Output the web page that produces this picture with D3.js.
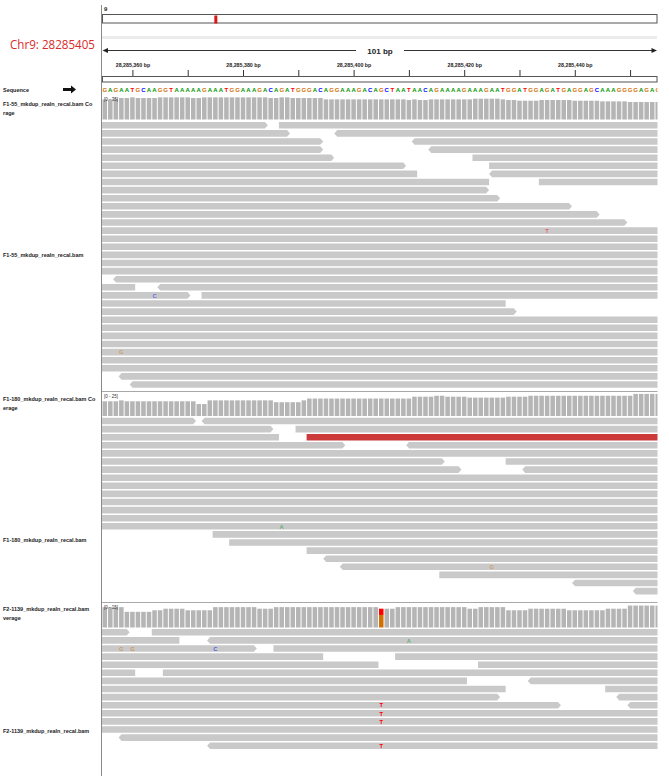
<!DOCTYPE html>
<html><head><meta charset="utf-8">
<script src="https://cdn.jsdelivr.net/npm/d3@7"></script>
<style>
body{margin:0;background:#fff}
svg{display:block}
text{font-family:"Liberation Sans",Arial,sans-serif}
</style>
</head><body>
<svg id="c" width="669" height="781"></svg>
<script>
// ---------------- DATA ----------------
const chromName = "9";
const chromLength = 138394717;
const locusLabel = "Chr9: 28285405";
const locusPos = 28285405;
const viewStart = 28285354.5, viewEnd = 28285455.5;
const spanLabel = "101 bp";
const tickPositions = [28285360,28285370,28285380,28285390,28285400,28285410,28285420,28285430,28285440,28285450];
const labeledTicks = [28285360,28285380,28285400,28285420,28285440];
const tickLabels = ["28,285,360 bp","28,285,380 bp","28,285,400 bp","28,285,420 bp","28,285,440 bp"];
const sequence = "GAGAATGCAAGGTAAAAAGAAATGGAAAGACAGATGGGACAGGAAAGACAGCTAATAACAGAAAAGAAAGAATGGATGGAGATGAGGAGCAAAGGGGAGAG".split("");

const covLabels = ["F1-55_mkdup_realn_recal.bam Co","F1-180_mkdup_realn_recal.bam Co","F2-1139_mkdup_realn_recal.bam"];
const covLabels2 = ["rage","erage","verage"];
const readLabels = ["F1-55_mkdup_realn_recal.bam","F1-180_mkdup_realn_recal.bam","F2-1139_mkdup_realn_recal.bam"];
const covRanges = ["[0 - 35]","[0 - 25]","[0 - 15]"];
const covMax = [35,25,15];

const cov1 = [30,30,31,32,32,33,32,32,32,32, 33,33,33,33,33,33,32,32,33,33, 33,33,33,33,33,33,33,33,33,33,
  32,32,33,33,32,32,32,32,32,32, 30,30,30,30,30,30,30,30,30,30, 30,30,30,30,30,29,30,29,29,30,
  30,30,30,30,30,30,30,31,31,31, 31,31,30,29,29,28,28,28,28,29, 29,29,29,29,29,28,28,28,28,28,
  27,27,27,27,27,26,26,26,26,26, 26];
const cov2 = [16,16,16,17,16,16,16,16,16,16, 16,16,16,16,16,16,16,13,13,17, 17,17,17,17,17,17,17,17,17,17,
  17,15,15,15,15,15,17,19,19,19, 19,19,19,19,19,19,19,19,19,19, 19,19,19,19,19,19,21,21,21,21,
  22,22,21,21,21,21,20,20,20,20, 20,20,20,21,21,21,21,22,22,22, 22,22,22,22,22,22,22,22,22,22,
  22,22,22,22,22,22,24,24,24,24, 24];
const cov3 = [13,13,13,13,10,10,10,10,10,11, 11,12,12,12,12,11,11,11,11,11, 13,13,13,13,13,13,13,13,12,12,
  12,13,13,13,13,13,13,13,13,13, 13,13,13,13,13,13,13,13,13,13, 12,12,12,13,13,13,13,13,13,13,
  13,13,13,13,13,13,12,12,13,13, 13,13,13,11,11,11,11,12,12,12, 12,12,12,12,11,11,11,11,11,11,
  11,12,12,12,12,14,14,14,14,14, 14];
// allele counts at mismatch columns: [base index, base, count] (stacked bottom to top)
const cov3Alleles = [[50,"G",8],[50,"T",4]];

// reads: [row, startBaseIndex, endBaseIndex, strand, discordant]
const reads1 = [
  [0,0,30,"+"],[0,32,101,"+"],[1,0,34,"+"],[1,42,101,"-"],[2,0,40,"+"],[2,56,101,"-"],
  [3,0,40,"+"],[3,59,101,"-"],[4,0,42,"+"],[4,67,101,"+"],[5,0,55,"+"],[5,70,101,"+"],
  [6,0,57,"-"],[6,70,101,"-"],[7,0,70,"-"],[7,79,101,"+"],[8,0,70,"+"],[9,0,72,"+"],
  [10,0,85,"+"],[11,0,90,"+"],[12,0,95,"+"],
  [13,0,101,"+"],[14,0,101,"+"],[15,0,101,"+"],[16,0,101,"+"],[17,0,101,"+"],[18,0,101,"+"],
  [19,2,101,"-"],[20,0,6,"-"],[20,10,101,"-"],[21,0,16,"+"],[21,18,101,"+"],
  [22,0,73,"-"],[23,0,75,"+"],
  [24,0,101,"+"],[25,0,101,"+"],[26,0,101,"+"],[27,0,101,"+"],[28,0,101,"+"],[29,0,101,"+"],[30,0,101,"+"],
  [31,3,101,"-"],[32,5,101,"-"]
];
const reads2 = [
  [0,0,17,"+"],[0,18,101,"-"],[1,0,31,"+"],[1,35,101,"+"],[2,0,32,"-"],[2,37,101,"+",true],
  [3,0,44,"+"],[3,55,101,"-"],[4,0,101,"+"],[5,0,62,"+"],[5,73,101,"+"],[6,0,65,"+"],[6,76,101,"-"],
  [7,0,101,"+"],[8,0,101,"+"],[9,0,101,"+"],[10,0,101,"+"],[11,0,101,"+"],[12,0,101,"+"],[13,0,101,"+"],
  [14,20,101,"+"],[15,23,101,"+"],[16,37,101,"+"],[17,40,101,"-"],[18,43,101,"-"],
  [19,61,101,"+"],[20,85,101,"-"],[21,96,101,"-"]
];
const reads3 = [
  [0,0,5,"+"],[0,9,101,"+"],[1,0,14,"-"],[1,19,101,"-"],[2,0,28,"+"],[2,31,101,"+"],
  [3,0,40,"-"],[3,53,101,"+"],[4,0,50,"-"],[4,68,101,"+"],[5,0,6,"-"],[5,11,101,"+"],
  [6,0,66,"-"],[6,77,101,"-"],[7,0,73,"-"],[7,91,101,"+"],[8,0,72,"+"],[8,93,101,"-"],
  [9,0,83,"+"],[9,95,101,"-"],[10,0,101,"+"],[11,0,101,"+"],[12,0,101,"+"],
  [13,3,101,"-"],[14,19,101,"-"]
];
// mismatches: [row, base index, base, quality 0..1]
const mm1 = [[13,80,"T",0.55],[21,9,"C",0.5],[28,3,"G",0.5]];
const mm2 = [[13,32,"A",0.5],[18,70,"G",0.5]];
const mm3 = [[1,55,"A",0.5],[2,3,"G",0.55],[2,5,"G",0.6],[2,20,"C",0.6],
  [9,50,"T",1],[10,50,"T",1],[11,50,"T",1],[14,50,"T",1]];

// ---------------- DRAW ----------------
const baseColor = {A:"#009600",C:"#0000ff",G:"#d17105",T:"#ff0000"};
const svg = d3.select("#c");
const X0 = 102, X1 = 660.5, CLIPX = 657.5;
const gx = d3.scaleLinear().domain([viewStart, viewEnd]).range([X0, X1]);
const bx = i => gx(viewStart + i);
const bw = gx(viewStart + 1) - gx(viewStart);
const chrX = d3.scaleLinear().domain([0, chromLength]).range([102.5, 657]);

svg.append("defs").append("clipPath").attr("id","dclip")
  .append("rect").attr("x",X0).attr("y",0).attr("width",CLIPX-X0).attr("height",781);

// left divider
svg.append("line").attr("x1",101.5).attr("x2",101.5).attr("y1",5).attr("y2",776)
  .attr("stroke","#8a8a8a").attr("stroke-width",1);

// locus label
svg.append("text").attr("x",10).attr("y",49).text(locusLabel)
  .attr("font-size",12.5).attr("fill","#d92b2b")
  .attr("textLength",85).attr("lengthAdjust","spacingAndGlyphs")
  .style("font-family","'Open Sans','Liberation Sans',sans-serif");

// ideogram
svg.append("text").attr("x",104).attr("y",11).text(chromName)
  .attr("font-size",6).attr("font-weight","bold").attr("fill","#222");
svg.append("rect").attr("x",102.5).attr("y",14.5).attr("width",554.5).attr("height",8.5)
  .attr("fill","#fff").attr("stroke","#555").attr("stroke-width",1);
svg.append("rect").attr("x",chrX(locusPos)-1.5).attr("y",15.5).attr("width",3).attr("height",8)
  .attr("fill","#e01515");
svg.append("rect").attr("x",102).attr("y",36).attr("width",555).attr("height",3).attr("fill","#ececec");

// span ruler
const rg = svg.append("g");
rg.append("line").attr("x1",106).attr("x2",356).attr("y1",50.5).attr("y2",50.5).attr("stroke","#333");
rg.append("line").attr("x1",404).attr("x2",653).attr("y1",50.5).attr("y2",50.5).attr("stroke","#333");
rg.append("path").attr("d","M102.5,50.5 L108,48 L108,53 Z").attr("fill","#222");
rg.append("path").attr("d","M657,50.5 L651.5,48 L651.5,53 Z").attr("fill","#222");
rg.append("text").attr("x",380).attr("y",53.5).attr("text-anchor","middle").text(spanLabel)
  .attr("font-size",8).attr("font-weight","bold").attr("fill","#222");

// ticks via axis
const axis = d3.axisTop(gx).tickValues(tickPositions).tickSize(6).tickPadding(3)
  .tickFormat(d => { const k = labeledTicks.indexOf(d); return k >= 0 ? tickLabels[k] : ""; });
const ag = svg.append("g").attr("transform","translate(0,76)").call(axis);
ag.select(".domain").remove();
ag.selectAll(".tick line").attr("stroke","#333");
ag.selectAll(".tick text").attr("font-size",5.3).attr("font-weight","bold").attr("fill","#222")
  .style("font-family","'Liberation Sans',Arial,sans-serif");
svg.append("rect").attr("x",102.5).attr("y",76.5).attr("width",554.5).attr("height",5.5)
  .attr("fill","none").attr("stroke","#555");

// sequence track
svg.append("text").attr("x",3).attr("y",92).text("Sequence")
  .attr("font-size",5.5).attr("font-weight","bold").attr("fill","#222");
svg.append("path").attr("d","M63,88 L71,88 L71,85.5 L76,89.5 L71,93.5 L71,91 L63,91 Z").attr("fill","#111");
const sg = svg.append("g").attr("clip-path","url(#dclip)");
sg.selectAll("text").data(sequence).join("text")
  .attr("x",(d,i)=>bx(i)+bw/2).attr("y",92).attr("text-anchor","middle")
  .attr("font-size",6).attr("font-weight","bold").attr("fill",d=>baseColor[d]).text(d=>d);

// layout of tracks
const tracks = [
  {cov:cov1, alleles:[], reads:reads1, mm:mm1, covTop:96, covBot:119.5, row0:125.3, covLabelY:106, readLabelY:257, sepY:null},
  {cov:cov2, alleles:[], reads:reads2, mm:mm2, covTop:393, covBot:416, row0:421, covLabelY:401, readLabelY:542, sepY:391.5},
  {cov:cov3, alleles:cov3Alleles, reads:reads3, mm:mm3, covTop:604, covBot:627.5, row0:632.3, covLabelY:611, readLabelY:733, sepY:602.5}
];
const PITCH = 8.1, RH = 6.6;

tracks.forEach((t, ti) => {
  if (t.sepY !== null) {
    svg.append("line").attr("x1",102).attr("x2",657.5).attr("y1",t.sepY).attr("y2",t.sepY)
      .attr("stroke","#a8a8a8").attr("stroke-width",1);
  }
  // labels
  svg.append("text").attr("x",3).attr("y",t.covLabelY).text(covLabels[ti])
    .attr("font-size",5.5).attr("font-weight","bold").attr("fill","#222");
  svg.append("text").attr("x",3).attr("y",t.covLabelY+9).text(covLabels2[ti])
    .attr("font-size",5.5).attr("font-weight","bold").attr("fill","#222");
  svg.append("text").attr("x",3).attr("y",t.readLabelY).text(readLabels[ti])
    .attr("font-size",5.5).attr("font-weight","bold").attr("fill","#222");

  const g = svg.append("g").attr("clip-path","url(#dclip)");
  // coverage
  const cy = d3.scaleLinear().domain([0, covMax[ti]]).range([t.covBot, t.covTop]);
  const allelePos = new Set(t.alleles.map(a=>a[0]));
  g.selectAll("rect.cov").data(t.cov.map((v,i)=>({v,i})).filter(d=>!allelePos.has(d.i)))
    .join("rect").attr("class","cov")
    .attr("x",d=>bx(d.i)+0.5).attr("width",bw-1)
    .attr("y",d=>cy(d.v)).attr("height",d=>t.covBot-cy(d.v)).attr("fill","#b5b5b5");
  const acc = {};
  t.alleles.forEach(([pos, base, n]) => {
    const lo = acc[pos] || 0;
    g.append("rect").attr("x",bx(pos)+0.5).attr("width",bw-1)
      .attr("y",cy(lo+n)).attr("height",cy(lo)-cy(lo+n)).attr("fill",baseColor[base]);
    acc[pos] = lo + n;
  });
  g.append("text").attr("x",104).attr("y",t.covTop+5).text(covRanges[ti])
    .attr("font-size",4.5).attr("fill","#333");

  // reads
  g.selectAll("path.read").data(t.reads).join("path").attr("class","read")
    .attr("d", ([row, s, e, strand]) => {
      const yc = t.row0 + row*PITCH, y0 = yc - RH/2, y1 = yc + RH/2;
      const x0 = bx(s), x1 = bx(e);
      if (strand === "+" && e < 101) {
        return `M${x0},${y0}L${x1-3},${y0}L${x1},${yc}L${x1-3},${y1}L${x0},${y1}Z`;
      } else if (strand === "-" && s > 0) {
        return `M${x0},${yc}L${x0+3},${y0}L${x1},${y0}L${x1},${y1}L${x0+3},${y1}Z`;
      }
      return `M${x0},${y0}L${x1},${y0}L${x1},${y1}L${x0},${y1}Z`;
    })
    .attr("fill", d => d[4] ? "#cc3a3a" : "#c9c9c9");

  // mismatches
  g.selectAll("text.mm").data(t.mm).join("text").attr("class","mm")
    .attr("x",d=>bx(d[1])+bw/2).attr("y",d=>t.row0+d[0]*PITCH+2.2)
    .attr("text-anchor","middle").attr("font-size",5.8).attr("font-weight","bold")
    .attr("fill",d=>baseColor[d[2]]).attr("fill-opacity",d=>d[3]).text(d=>d[2]);
});
</script>
</body></html>
